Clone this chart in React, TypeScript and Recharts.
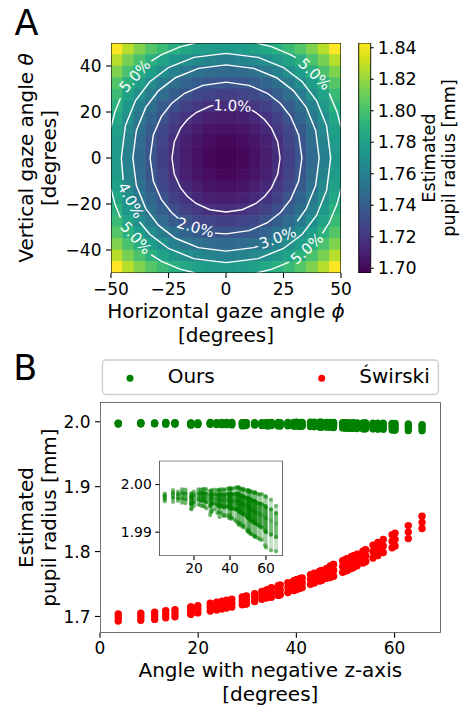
import React from 'react';
import { ScatterChart, Scatter, XAxis, YAxis, BarChart, Bar, ErrorBar } from 'recharts';

const FONT = '"DejaVu Sans", Verdana, sans-serif';
const FS_TICK = 17;
const FS_LABEL = 20;
const FS_CB_TICK = 17.5;
const FS_CB_LABEL = 17.7;
const INK = '#000000';

// ---------- Panel A data ----------
const phiCenters = [-47.5, -42.5, -37.5, -32.5, -27.5, -22.5, -17.5, -12.5, -7.5, -2.5, 2.5, 7.5, 12.5, 17.5, 22.5, 27.5, 32.5, 37.5, 42.5, 47.5];
const thetaCenters = [47.5, 42.5, 37.5, 32.5, 27.5, 22.5, 17.5, 12.5, 7.5, 2.5, -2.5, -7.5, -12.5, -17.5, -22.5, -27.5, -32.5, -37.5, -42.5, -47.5];
const heatRows = [
  [1.843, 1.827, 1.815, 1.804, 1.796, 1.789, 1.784, 1.780, 1.777, 1.776, 1.776, 1.777, 1.780, 1.784, 1.789, 1.796, 1.804, 1.815, 1.827, 1.843],
  [1.827, 1.813, 1.801, 1.790, 1.781, 1.774, 1.769, 1.765, 1.762, 1.760, 1.760, 1.762, 1.765, 1.769, 1.774, 1.781, 1.790, 1.801, 1.813, 1.827],
  [1.815, 1.801, 1.788, 1.778, 1.769, 1.761, 1.755, 1.751, 1.748, 1.747, 1.747, 1.748, 1.751, 1.755, 1.761, 1.769, 1.778, 1.788, 1.801, 1.815],
  [1.804, 1.790, 1.778, 1.767, 1.757, 1.750, 1.744, 1.739, 1.736, 1.735, 1.735, 1.736, 1.739, 1.744, 1.750, 1.757, 1.767, 1.778, 1.790, 1.804],
  [1.796, 1.781, 1.769, 1.757, 1.748, 1.740, 1.734, 1.729, 1.726, 1.724, 1.724, 1.726, 1.729, 1.734, 1.740, 1.748, 1.757, 1.769, 1.781, 1.796],
  [1.789, 1.774, 1.761, 1.750, 1.740, 1.732, 1.725, 1.721, 1.717, 1.716, 1.716, 1.717, 1.721, 1.725, 1.732, 1.740, 1.750, 1.761, 1.774, 1.789],
  [1.784, 1.769, 1.755, 1.744, 1.734, 1.725, 1.719, 1.714, 1.710, 1.709, 1.709, 1.710, 1.714, 1.719, 1.725, 1.734, 1.744, 1.755, 1.769, 1.784],
  [1.780, 1.765, 1.751, 1.739, 1.729, 1.721, 1.714, 1.709, 1.705, 1.704, 1.704, 1.705, 1.709, 1.714, 1.721, 1.729, 1.739, 1.751, 1.765, 1.780],
  [1.777, 1.762, 1.748, 1.736, 1.726, 1.717, 1.710, 1.705, 1.702, 1.700, 1.700, 1.702, 1.705, 1.710, 1.717, 1.726, 1.736, 1.748, 1.762, 1.777],
  [1.776, 1.760, 1.747, 1.735, 1.724, 1.716, 1.709, 1.704, 1.700, 1.698, 1.698, 1.700, 1.704, 1.709, 1.716, 1.724, 1.735, 1.747, 1.760, 1.776],
  [1.776, 1.760, 1.747, 1.735, 1.724, 1.716, 1.709, 1.704, 1.700, 1.698, 1.698, 1.700, 1.704, 1.709, 1.716, 1.724, 1.735, 1.747, 1.760, 1.776],
  [1.777, 1.762, 1.748, 1.736, 1.726, 1.717, 1.710, 1.705, 1.702, 1.700, 1.700, 1.702, 1.705, 1.710, 1.717, 1.726, 1.736, 1.748, 1.762, 1.777],
  [1.780, 1.765, 1.751, 1.739, 1.729, 1.721, 1.714, 1.709, 1.705, 1.704, 1.704, 1.705, 1.709, 1.714, 1.721, 1.729, 1.739, 1.751, 1.765, 1.780],
  [1.784, 1.769, 1.755, 1.744, 1.734, 1.725, 1.719, 1.714, 1.710, 1.709, 1.709, 1.710, 1.714, 1.719, 1.725, 1.734, 1.744, 1.755, 1.769, 1.784],
  [1.789, 1.774, 1.761, 1.750, 1.740, 1.732, 1.725, 1.721, 1.717, 1.716, 1.716, 1.717, 1.721, 1.725, 1.732, 1.740, 1.750, 1.761, 1.774, 1.789],
  [1.796, 1.781, 1.769, 1.757, 1.748, 1.740, 1.734, 1.729, 1.726, 1.724, 1.724, 1.726, 1.729, 1.734, 1.740, 1.748, 1.757, 1.769, 1.781, 1.796],
  [1.804, 1.790, 1.778, 1.767, 1.757, 1.750, 1.744, 1.739, 1.736, 1.735, 1.735, 1.736, 1.739, 1.744, 1.750, 1.757, 1.767, 1.778, 1.790, 1.804],
  [1.815, 1.801, 1.788, 1.778, 1.769, 1.761, 1.755, 1.751, 1.748, 1.747, 1.747, 1.748, 1.751, 1.755, 1.761, 1.769, 1.778, 1.788, 1.801, 1.815],
  [1.827, 1.813, 1.801, 1.790, 1.781, 1.774, 1.769, 1.765, 1.762, 1.760, 1.760, 1.762, 1.765, 1.769, 1.774, 1.781, 1.790, 1.801, 1.813, 1.827],
  [1.843, 1.827, 1.815, 1.804, 1.796, 1.789, 1.784, 1.780, 1.777, 1.776, 1.776, 1.777, 1.780, 1.784, 1.789, 1.796, 1.804, 1.815, 1.827, 1.843],
];
const heatTicksX = [-50, -25, 0, 25, 50];
const heatTicksY = [-40, -20, 0, 20, 40];
const angleDomain = [-50, 50];
const colorTicks = [1.7, 1.72, 1.74, 1.76, 1.78, 1.8, 1.82, 1.84];
const colorRange = [1.697, 1.843];

// contour lines (phi, theta)
const contour1 = [[11.2, 20.8], [13, 19.76], [16.75, 16.75], [19.76, 13], [22.49, 7], [23.5, 0], [22.49, -7], [19.76, -13], [16.75, -16.75], [13, -19.76], [7, -22.49], [0, -23.5], [-7, -22.49], [-13, -19.76], [-16.75, -16.75], [-19.76, -13], [-22.49, -7], [-23.5, 0], [-22.49, 7], [-19.76, 13], [-16.75, 16.75], [-13, 19.76], [-7, 22.49], [-5.5, 22.88]];
const contour2 = [[-4.8, -32.68], [0, -33], [10, -31.6], [18, -28.13], [23.68, -23.68], [28.13, -18], [31.6, -10], [33, 0], [31.6, 10], [28.13, 18], [23.68, 23.68], [18, 28.13], [10, 31.6], [0, 33], [-10, 31.6], [-18, 28.13], [-23.68, 23.68], [-28.13, 18], [-31.6, 10], [-33, 0], [-31.6, -10], [-28.13, -18], [-23.68, -23.68], [-20.7, -26.3]];
const contour3 = [[31, -27.5], [34.9, -22], [38.97, -12], [40.5, 0], [38.97, 12], [34.9, 22], [29.3, 29.3], [22, 34.9], [12, 38.97], [0, 40.5], [-12, 38.97], [-22, 34.9], [-29.3, 29.3], [-34.9, 22], [-38.97, 12], [-40.5, 0], [-38.97, -12], [-34.9, -22], [-29.3, -29.3], [-22, -34.9], [-12, -38.97], [0, -40.5], [12, -38.97], [14, -38.4]];
const contour4 = [[-37.66, -27.7], [-33.15, -33.15], [-25, -39.34], [-14, -43.75], [0, -45.5], [14, -43.75], [25, -39.34], [33.15, -33.15], [39.34, -25], [43.75, -14], [45.5, 0], [43.75, 14], [39.34, 25], [33.15, 33.15], [25, 39.34], [14, 43.75], [0, 45.5], [-14, 43.75], [-25, 39.34], [-33.15, 33.15], [-39.34, 25], [-43.75, 14], [-45.5, 0], [-44.7, -9.6]];
const contour5Parts = [
  [[-13.4, 50], [-20, 48.29], [-28, 44.92], [-32.5, 42.16]],
  [[-45.9, 26], [-48.29, 20], [-50, 13.4]],
  [[13.4, 50], [20, 48.29], [28, 44.92], [30.3, 43.6]],
  [[44.87, 28.1], [48.29, 20], [50, 13.4]],
  [[-50, -13.4], [-48.29, -20], [-45.9, -26]],
  [[-32.5, -42.16], [-28, -44.92], [-20, -48.29], [-13.4, -50]],
  [[13.4, -50], [20, -48.29], [27.4, -45.23]],
  [[41.94, -32.8], [44.92, -28], [48.29, -20], [50, -13.4]],
];
const contourLabels = [
  { x: 2.8, y: 22.6, text: '1.0%', rot: 2 },
  { x: -13.3, y: -30.3, text: '2.0%', rot: 16 },
  { x: 22.5, y: -34.8, text: '3.0%', rot: -20 },
  { x: -41.5, y: -18.5, text: '4.0%', rot: 62 },
  { x: -39.5, y: 35.6, text: '5.0%', rot: -48 },
  { x: 38.5, y: 36.4, text: '5.0%', rot: 44 },
  { x: -39.2, y: -34.8, text: '5.0%', rot: 48 },
  { x: 35.3, y: -39.5, text: '5.0%', rot: -42 },
];

// ---------- Panel B data ----------
const angles = [3.72, 8.31, 11.13, 13.39, 15.27, 18.48, 18.56, 19.93, 22.45, 23.76, 24.82, 25.78, 26.85, 28.98, 29.63, 29.84, 31.5, 32.97, 33.83, 34.22, 34.92, 36.3, 36.72, 38.27, 39.45, 40.02, 40.04, 40.75, 41.19, 42.87, 43.65, 44.69, 45.0, 45.18, 46.16, 46.89, 47.53, 47.59, 49.42, 49.93, 50.35, 50.4, 51.17, 51.62, 52.37, 53.54, 53.95, 54.13, 55.6, 56.6, 57.7, 59.5, 60.1, 62.8, 65.6];
const swirskiLow = [1.6930, 1.6940, 1.6955, 1.6980, 1.6995, 1.7035, 1.7037, 1.7055, 1.7085, 1.7100, 1.7115, 1.7130, 1.7145, 1.7180, 1.7190, 1.7195, 1.7230, 1.7265, 1.7285, 1.7295, 1.7295, 1.7325, 1.7335, 1.7370, 1.7400, 1.7415, 1.7415, 1.7435, 1.7445, 1.7495, 1.7515, 1.7545, 1.7555, 1.7560, 1.7590, 1.7600, 1.7620, 1.7622, 1.7680, 1.7695, 1.7710, 1.7712, 1.7740, 1.7755, 1.7780, 1.7825, 1.7840, 1.7847, 1.7900, 1.7940, 1.7985, 1.8060, 1.8085, 1.8200, 1.8355];
const swirskiMid = [1.6985, 1.6995, 1.7010, 1.7035, 1.7050, 1.7090, 1.7092, 1.7110, 1.7145, 1.7160, 1.7175, 1.7190, 1.7205, 1.7240, 1.7250, 1.7255, 1.7290, 1.7325, 1.7345, 1.7355, 1.7370, 1.7400, 1.7410, 1.7445, 1.7475, 1.7490, 1.7490, 1.7510, 1.7520, 1.7570, 1.7590, 1.7620, 1.7630, 1.7635, 1.7665, 1.7690, 1.7710, 1.7712, 1.7770, 1.7785, 1.7800, 1.7802, 1.7830, 1.7845, 1.7870, 1.7915, 1.7930, 1.7937, 1.8000, 1.8040, 1.8085, 1.8160, 1.8185, 1.8300, 1.8450];
const swirskiHigh = [1.7040, 1.7050, 1.7065, 1.7090, 1.7105, 1.7145, 1.7147, 1.7165, 1.7205, 1.7220, 1.7235, 1.7250, 1.7265, 1.7300, 1.7310, 1.7315, 1.7350, 1.7385, 1.7405, 1.7415, 1.7445, 1.7475, 1.7485, 1.7520, 1.7550, 1.7565, 1.7565, 1.7585, 1.7595, 1.7645, 1.7665, 1.7695, 1.7705, 1.7710, 1.7740, 1.7780, 1.7800, 1.7802, 1.7860, 1.7875, 1.7890, 1.7892, 1.7920, 1.7935, 1.7960, 1.8005, 1.8020, 1.8027, 1.8100, 1.8140, 1.8185, 1.8260, 1.8285, 1.8400, 1.8545];
const oursTop = [1.9981, 1.9988, 1.9985, 1.9990, 1.9989, 1.9980, 1.9982, 1.9985, 1.9990, 1.9989, 1.9990, 1.9991, 1.9990, 1.9986, 1.9987, 1.9988, 1.9989, 1.9988, 1.9989, 1.9987, 1.9990, 1.9990, 1.9988, 1.9991, 1.9992, 1.9990, 1.9993, 1.9991, 1.9992, 1.9993, 1.9994, 1.9995, 1.9993, 1.9992, 1.9990, 1.9991, 1.9989, 1.9990, 1.9988, 1.9987, 1.9986, 1.9988, 1.9985, 1.9986, 1.9984, 1.9983, 1.9984, 1.9982, 1.9980, 1.9979, 1.9980, 1.9976, 1.9974, 1.9968, 1.9955];
const oursUpper = [1.9977, 1.9982, 1.9980, 1.9983, 1.9982, 1.9974, 1.9975, 1.9978, 1.9982, 1.9982, 1.9983, 1.9982, 1.9981, 1.9978, 1.9979, 1.9980, 1.9980, 1.9979, 1.9979, 1.9977, 1.9980, 1.9979, 1.9978, 1.9980, 1.9980, 1.9979, 1.9981, 1.9979, 1.9980, 1.9980, 1.9981, 1.9981, 1.9979, 1.9978, 1.9976, 1.9976, 1.9974, 1.9975, 1.9972, 1.9971, 1.9970, 1.9971, 1.9968, 1.9969, 1.9966, 1.9965, 1.9965, 1.9964, 1.9961, 1.9960, 1.9959, 1.9955, 1.9953, 1.9948, 1.9940];
const oursMid = [1.9975, 1.9978, 1.9976, 1.9978, 1.9977, 1.9968, 1.9966, 1.9971, 1.9976, 1.9975, 1.9975, 1.9974, 1.9973, 1.9968, 1.9970, 1.9971, 1.9970, 1.9968, 1.9969, 1.9966, 1.9969, 1.9968, 1.9966, 1.9968, 1.9967, 1.9966, 1.9968, 1.9965, 1.9966, 1.9965, 1.9966, 1.9965, 1.9963, 1.9962, 1.9960, 1.9959, 1.9957, 1.9958, 1.9954, 1.9953, 1.9951, 1.9952, 1.9949, 1.9949, 1.9946, 1.9944, 1.9944, 1.9943, 1.9940, 1.9938, 1.9936, 1.9931, 1.9929, 1.9924, 1.9918];
const oursLower = [1.9970, 1.9972, 1.9971, 1.9970, 1.9969, 1.9960, 1.9958, 1.9963, 1.9968, 1.9966, 1.9967, 1.9965, 1.9963, 1.9955, 1.9958, 1.9960, 1.9960, 1.9956, 1.9957, 1.9953, 1.9956, 1.9954, 1.9952, 1.9954, 1.9952, 1.9950, 1.9953, 1.9949, 1.9950, 1.9948, 1.9948, 1.9946, 1.9944, 1.9943, 1.9941, 1.9939, 1.9937, 1.9938, 1.9933, 1.9931, 1.9929, 1.9930, 1.9926, 1.9925, 1.9922, 1.9920, 1.9919, 1.9918, 1.9915, 1.9912, 1.9910, 1.9903, 1.9900, 1.9895, 1.9890];
const oursBottom = [1.9965, 1.9964, 1.9966, 1.9962, 1.9961, 1.9950, 1.9948, 1.9955, 1.9958, 1.9956, 1.9955, 1.9954, 1.9950, 1.9936, 1.9942, 1.9945, 1.9948, 1.9940, 1.9942, 1.9932, 1.9940, 1.9936, 1.9934, 1.9935, 1.9930, 1.9932, 1.9936, 1.9928, 1.9930, 1.9925, 1.9922, 1.9918, 1.9915, 1.9920, 1.9916, 1.9912, 1.9914, 1.9910, 1.9905, 1.9902, 1.9900, 1.9904, 1.9898, 1.9896, 1.9895, 1.9892, 1.9890, 1.9891, 1.9888, 1.9885, 1.9884, 1.9872, 1.9868, 1.9862, 1.9860];
const mainTicksX = [0, 20, 40, 60];
const mainTicksY = [1.7, 1.8, 1.9, 2.0];
const mainDomainX = [0, 69.4];
const mainDomainY = [1.675, 2.03];
const insetTicksX = [20, 40, 60];
const insetTicksY = [1.99, 2.0];
const insetDomainX = [0.7, 69.3];
const insetDomainY = [1.985, 2.005];

// ---------- colour map ----------
const viridisStops = ['#440154', '#471365', '#482475', '#463480', '#414487', '#3b528b', '#355f8d', '#2f6c8e', '#2a788e', '#25848e', '#21918c', '#1e9c89', '#22a884', '#2fb47c', '#44bf70', '#5ec962', '#7ad151', '#9bd93c', '#bddf26', '#dfe318', '#fde725'];
function hexToRgb(h: string) {
  return [parseInt(h.slice(1, 3), 16), parseInt(h.slice(3, 5), 16), parseInt(h.slice(5, 7), 16)];
}
function viridis(t: number) {
  const c = Math.max(0, Math.min(1, t)) * (viridisStops.length - 1);
  const i = Math.min(Math.floor(c), viridisStops.length - 2);
  const f = c - i;
  const a = hexToRgb(viridisStops[i]);
  const b = hexToRgb(viridisStops[i + 1]);
  const m = a.map((v, k) => Math.round(v + (b[k] - v) * f));
  return `rgb(${m[0]},${m[1]},${m[2]})`;
}
const colorOf = (v: number) => viridis((v - colorRange[0]) / (colorRange[1] - colorRange[0]));

// ---------- derived tables ----------
const toPts = (arr: number[][]) => arr.map(([x, y]) => ({ x, y }));
const cells = heatRows.flatMap((row, r) => row.map((v, c) => ({ x: phiCenters[c], y: thetaCenters[r], v })));
const box = (dx: number[], dy: number[]) => toPts([[dx[0], dy[0]], [dx[1], dy[0]], [dx[1], dy[1]], [dx[0], dy[1]], [dx[0], dy[0]]]);
const frameA = box(angleDomain, angleDomain);
const frameB = box(mainDomainX, mainDomainY);
const frameInset = box(insetDomainX, insetDomainY);
const swirskiPts = angles.flatMap((a, i) => [{ x: a, y: swirskiLow[i] }, { x: a, y: swirskiMid[i] }, { x: a, y: swirskiHigh[i] }]);
const oursPts = angles.flatMap((a, i) => [oursTop[i], oursUpper[i], oursMid[i], oursLower[i], oursBottom[i]].map((y) => ({ x: a, y })));
const oursStreaks = angles.map((a, i) => ({
  x: a,
  y: oursMid[i],
  all: [oursMid[i] - oursBottom[i], oursTop[i] - oursMid[i]],
  core: [oursMid[i] - oursLower[i], oursUpper[i] - oursMid[i]],
}));
const colorBarData = [{ name: 'cb', range: colorRange }];

const minusFmt = (v: number) => (v < 0 ? `\u2212${Math.abs(v)}` : `${v}`);
const tickStyle = { fill: INK, fontSize: FS_TICK, fontFamily: FONT };
const cbTickStyle = { fill: INK, fontSize: FS_CB_TICK, fontFamily: FONT };
const insetTickStyle = { fill: INK, fontSize: 13.9, fontFamily: FONT };
const tickLine = { stroke: INK, strokeWidth: 1.1 };
const noShape = () => <g />;

// ---------- label renderers ----------
function xLabel(line1: React.ReactNode, off1: number, off2: number, fallback: any) {
  return (props: any) => {
    const vb = props && props.viewBox ? props.viewBox : fallback;
    const cx = vb.x + vb.width / 2;
    const t = { fontFamily: FONT, fontSize: FS_LABEL, fill: INK };
    return (
      <g>
        <text x={cx} y={vb.y + off1} textAnchor="middle" {...t}>{line1}</text>
        <text x={cx} y={vb.y + off2} textAnchor="middle" {...t}>[degrees]</text>
      </g>
    );
  };
}
function yLabel(line1: React.ReactNode, line2: React.ReactNode, off1: number, off2: number, size: number, fallback: any) {
  return (props: any) => {
    const vb = props && props.viewBox ? props.viewBox : fallback;
    const cy = vb.y + vb.height / 2;
    const x1 = vb.x + off1;
    const x2 = vb.x + off2;
    const t = { fontFamily: FONT, fontSize: size, fill: INK };
    return (
      <g>
        <text x={x1} y={cy} transform={`rotate(-90 ${x1} ${cy})`} textAnchor="middle" {...t}>{line1}</text>
        <text x={x2} y={cy} transform={`rotate(-90 ${x2} ${cy})`} textAnchor="middle" {...t}>{line2}</text>
      </g>
    );
  };
}

const cellShape = (p: any) => {
  const w = 230 / 20 + 0.6;
  return <rect x={p.cx - w / 2} y={p.cy - w / 2} width={w} height={w} fill={colorOf(p.payload.v)} stroke="none" />;
};
const labelShape = (p: any) => (
  <text
    x={p.cx}
    y={p.cy}
    transform={`rotate(${p.payload.rot} ${p.cx} ${p.cy})`}
    textAnchor="middle"
    dominantBaseline="central"
    fontFamily={FONT}
    fontSize={15}
    fill="#ffffff"
  >
    {p.payload.text}
  </text>
);
const dot = (r: number, fill: string, op = 1) => (p: any) => <circle cx={p.cx} cy={p.cy} r={r} fill={fill} fillOpacity={op} />;

const contourLine = { stroke: '#ffffff', strokeWidth: 1.4 };
const frameLine = { stroke: INK, strokeWidth: 1.1 };

export default function App() {
  return (
    <div style={{ position: 'absolute', left: 0, top: 0, width: 466, height: 706, background: '#fff', overflow: 'hidden' }}>
      {/* Panel A heatmap */}
      <div style={{ position: 'absolute', left: 0, top: 0 }}>
        <ScatterChart width={360} height={354} margin={{ top: 43, right: 19, bottom: 0, left: 0 }}>
          <XAxis
            type="number"
            dataKey="x"
            domain={angleDomain}
            ticks={heatTicksX}
            interval={0}
            allowDataOverflow
            height={81}
            tick={tickStyle}
            tickFormatter={minusFmt}
            tickSize={5}
            tickMargin={4.5}
            tickLine={tickLine}
            axisLine={false}
            label={xLabel(<>Horizontal gaze angle <tspan fontStyle="italic">ϕ</tspan></>, 45, 68.6, { x: 111, y: 273, width: 230, height: 81 })}
          />
          <YAxis
            type="number"
            dataKey="y"
            domain={angleDomain}
            ticks={heatTicksY}
            interval={0}
            allowDataOverflow
            width={111}
            tick={tickStyle}
            tickFormatter={minusFmt}
            tickSize={5}
            tickMargin={4.5}
            tickLine={tickLine}
            axisLine={false}
            label={yLabel(<>Vertical gaze angle <tspan fontStyle="italic">θ</tspan></>, '[degrees]', 32.5, 56, FS_LABEL, { x: 0, y: 43, width: 111, height: 230 })}
          />
          <Scatter data={cells} shape={cellShape} isAnimationActive={false} />
          <Scatter data={toPts(contour1)} line={contourLine} shape={noShape} isAnimationActive={false} />
          <Scatter data={toPts(contour2)} line={contourLine} shape={noShape} isAnimationActive={false} />
          <Scatter data={toPts(contour3)} line={contourLine} shape={noShape} isAnimationActive={false} />
          <Scatter data={toPts(contour4)} line={contourLine} shape={noShape} isAnimationActive={false} />
          {contour5Parts.map((part, i) => (
            <Scatter key={`c5-${i}`} data={toPts(part)} line={contourLine} shape={noShape} isAnimationActive={false} />
          ))}
          <Scatter data={contourLabels} shape={labelShape} isAnimationActive={false} />
          <Scatter data={frameA} line={frameLine} shape={noShape} isAnimationActive={false} />
        </ScatterChart>
      </div>

      {/* Colour bar */}
      <div style={{ position: 'absolute', left: 350, top: 0 }}>
        <BarChart width={116} height={300} data={colorBarData} margin={{ top: 43, right: 0, bottom: 27, left: 8.7 }} barCategoryGap={0}>
          <defs>
            <linearGradient id="viridisBar" x1="0" y1="1" x2="0" y2="0">
              {viridisStops.map((c, i) => (
                <stop key={i} offset={`${(i / (viridisStops.length - 1)) * 100}%`} stopColor={c} />
              ))}
            </linearGradient>
          </defs>
          <XAxis dataKey="name" hide />
          <YAxis
            orientation="right"
            type="number"
            domain={colorRange}
            ticks={colorTicks}
            interval={0}
            allowDataOverflow
            width={95.3}
            tick={cbTickStyle}
            tickFormatter={(v: number) => v.toFixed(2)}
            tickSize={3}
            tickMargin={4}
            tickLine={tickLine}
            axisLine={false}
            label={yLabel('Estimated', 'pupil radius [mm]', 64.3, 83.8, FS_CB_LABEL, { x: 20.7, y: 43, width: 95.3, height: 230 })}
          />
          <Bar dataKey="range" fill="url(#viridisBar)" stroke={INK} strokeWidth={0.9} isAnimationActive={false} />
        </BarChart>
      </div>

      {/* Panel B main scatter */}
      <div style={{ position: 'absolute', left: 0, top: 340 }}>
        <ScatterChart width={466} height={366} margin={{ top: 62.3, right: 25.3, bottom: 0, left: 0 }}>
          <XAxis
            type="number"
            dataKey="x"
            domain={mainDomainX}
            ticks={mainTicksX}
            interval={0}
            allowDataOverflow
            height={73.3}
            tick={tickStyle}
            tickSize={5}
            tickMargin={4.5}
            tickLine={tickLine}
            axisLine={false}
            label={xLabel('Angle with negative z-axis', 44.2, 67.8, { x: 100, y: 292.7, width: 340.7, height: 73.3 })}
          />
          <YAxis
            type="number"
            dataKey="y"
            domain={mainDomainY}
            ticks={mainTicksY}
            interval={0}
            allowDataOverflow
            width={100}
            tick={tickStyle}
            tickFormatter={(v: number) => v.toFixed(1)}
            tickSize={5}
            tickMargin={4.5}
            tickLine={tickLine}
            axisLine={false}
            label={yLabel('Estimated', 'pupil radius [mm]', 32.6, 55.5, FS_LABEL, { x: 0, y: 62.3, width: 100, height: 230.4 })}
          />
          <Scatter name="Ours" data={oursPts} shape={dot(3.6, '#008000')} isAnimationActive={false} />
          <Scatter name="Świrski" data={swirskiPts} shape={dot(3.7, '#ff0000')} isAnimationActive={false} />
          <Scatter data={frameB} line={frameLine} shape={noShape} isAnimationActive={false} />
        </ScatterChart>
      </div>

      {/* Inset */}
      <div style={{ position: 'absolute', left: 110, top: 450 }}>
        <ScatterChart width={180} height={130} margin={{ top: 10.7, right: 7.3, bottom: 0, left: 0 }}>
          <XAxis
            type="number"
            dataKey="x"
            domain={insetDomainX}
            ticks={insetTicksX}
            interval={0}
            allowDataOverflow
            height={24}
            tick={insetTickStyle}
            tickSize={4}
            tickMargin={3.5}
            tickLine={tickLine}
            axisLine={false}
          />
          <YAxis
            type="number"
            dataKey="y"
            domain={insetDomainY}
            ticks={insetTicksY}
            interval={0}
            allowDataOverflow
            width={49.3}
            tick={insetTickStyle}
            tickFormatter={(v: number) => v.toFixed(2)}
            tickSize={4}
            tickMargin={3.5}
            tickLine={tickLine}
            axisLine={false}
          />
          <Scatter data={oursStreaks} shape={noShape} isAnimationActive={false}>
            <ErrorBar dataKey="all" direction="y" width={0} stroke="#008000" strokeWidth={3.8} strokeOpacity={0.22} strokeLinecap="round" />
            <ErrorBar dataKey="core" direction="y" width={0} stroke="#008000" strokeWidth={3.8} strokeOpacity={0.42} strokeLinecap="round" />
          </Scatter>
          <Scatter data={oursPts} shape={dot(2.2, '#008000', 0.3)} isAnimationActive={false} />
          <Scatter data={frameInset} line={frameLine} shape={noShape} isAnimationActive={false} />
        </ScatterChart>
      </div>

      {/* Panel letters and legend */}
      <svg width={466} height={706} style={{ position: 'absolute', left: 0, top: 0, pointerEvents: 'none' }}>
        <text x={14.5} y={35} fontFamily={FONT} fontSize={35} fill={INK}>A</text>
        <text x={13.3} y={380} fontFamily={FONT} fontSize={35} fill={INK}>B</text>
        <rect x={102.4} y={360} width={336} height={34.5} rx={4} ry={4} fill="#ffffff" stroke="#cccccc" strokeWidth={1.4} />
        <circle cx={130} cy={378.3} r={3.5} fill="#008000" />
        <text x={167.7} y={383.3} fontFamily={FONT} fontSize={FS_LABEL} fill={INK}>Ours</text>
        <circle cx={321.7} cy={378.3} r={3.5} fill="#ff0000" />
        <text x={359.3} y={383.3} fontFamily={FONT} fontSize={FS_LABEL} fill={INK}>Świrski</text>
      </svg>
    </div>
  );
}
